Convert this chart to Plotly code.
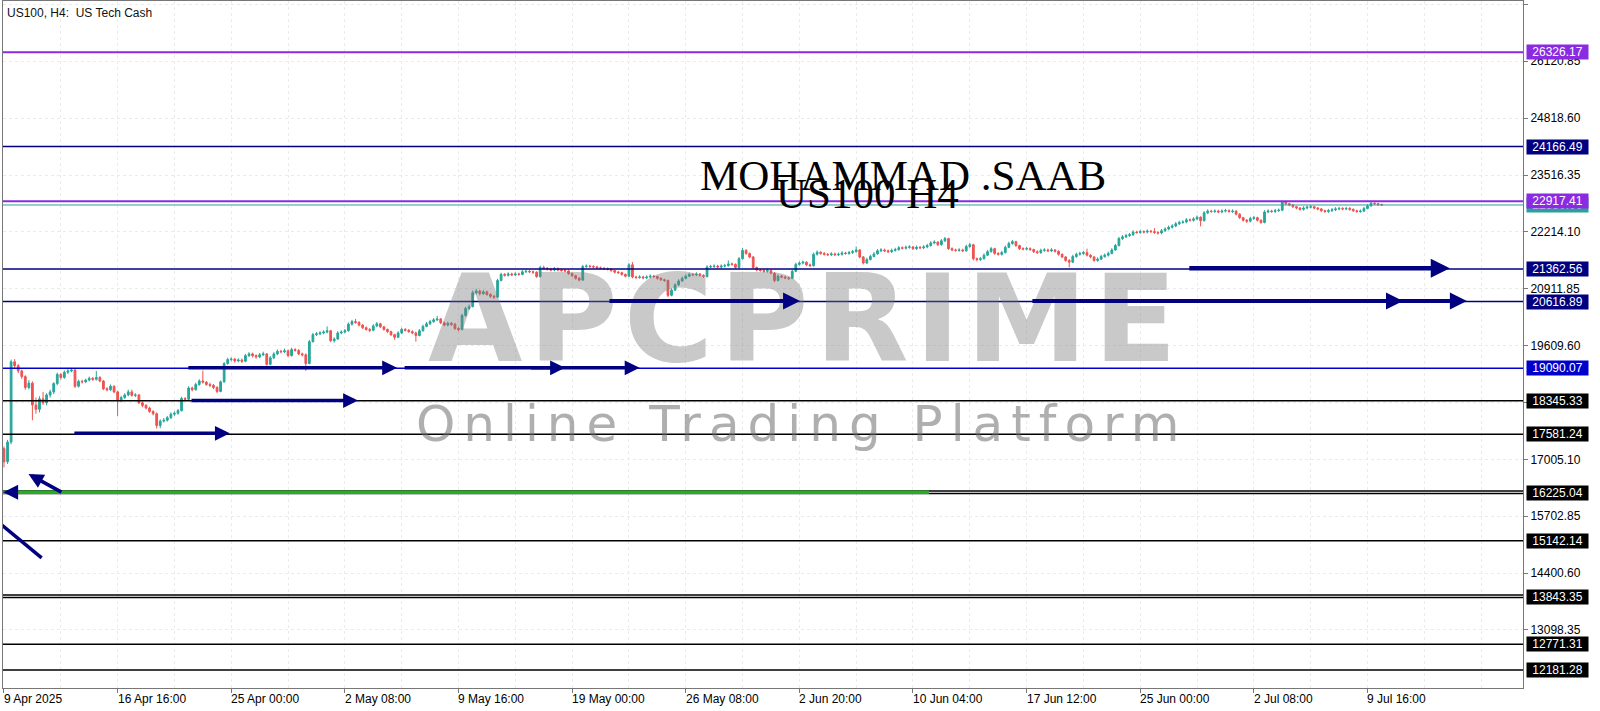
import plotly.graph_objects as go

# ---------------- data ----------------
opens = [
17250,16950,17400,19240,19150,19030,18900,18650,18750,18250,
18150,18390,18300,18480,18550,18740,18950,18880,19000,19030,
19050,18680,18790,18780,18820,18860,18840,18880,18800,18620,
18600,18680,18550,18350,18420,18480,18550,18470,18480,18300,
18240,18180,18100,18050,17780,17880,17900,17960,18040,18060,
18120,18400,18380,18640,18600,18720,18800,18770,18720,18700,
18650,18560,18780,19200,19290,19300,19260,19280,19250,19380,
19420,19380,19350,19400,19420,19180,19330,19420,19480,19470,
19490,19380,19520,19500,19420,19400,19200,19700,19860,19880,
19900,19920,19950,19720,19760,19900,19920,19950,20100,20160,
20140,20080,20020,19980,19960,20060,20110,20040,19980,19930,
19860,19800,19900,19980,19960,19930,19900,19840,19950,20050,
20110,20160,20200,20220,20130,20080,20120,20100,20000,19980,
20300,20460,20500,20820,20860,20800,20840,20780,20740,20720,
21100,21240,21220,21250,21230,21250,21240,21300,21310,21300,
21290,21190,21400,21380,21360,21340,21370,21340,21330,21320,
21260,21210,21150,21110,21420,21430,21420,21410,21390,21380,
21370,21360,21330,21290,21280,21240,21200,21460,21180,21170,
21180,21160,21180,21200,21190,21150,21120,21100,20760,20880,
21000,21090,21150,21200,21240,21230,21250,21220,21190,21410,
21420,21430,21410,21430,21440,21480,21470,21400,21600,21790,
21720,21640,21400,21340,21330,21310,21330,21270,21100,21200,
21180,21160,21150,21310,21470,21500,21520,21460,21440,21700,
21750,21720,21700,21690,21710,21690,21700,21730,21720,21740,
21760,21800,21640,21500,21580,21650,21710,21780,21800,21780,
21760,21790,21810,21850,21840,21860,21870,21830,21860,21850,
21870,21900,21960,21980,21920,22010,22060,21830,21800,21790,
21800,21780,21880,21920,21600,21580,21600,21680,21760,21830,
21720,21700,21740,21860,21950,21990,21900,21830,21820,21830,
21810,21760,21740,21790,21800,21780,21800,21770,21700,21640,
21560,21520,21650,21700,21720,21740,21680,21640,21560,21590,
21650,21680,21720,21800,21900,22060,22100,22130,22150,22210,
22200,22220,22210,22230,22220,22200,22190,22240,22280,22320,
22350,22400,22430,22440,22490,22480,22510,22550,22470,22650,
22690,22680,22690,22670,22690,22700,22680,22690,22620,22540,
22480,22460,22520,22540,22480,22430,22670,22690,22680,22700,
22710,22900,22860,22830,22790,22760,22730,22760,22780,22790,
22760,22740,22700,22680,22700,22720,22740,22750,22740,22750,
22730,22700,22680,22690,22750,22810,22870,22860,22840]

highs = [
17300,17450,19290,19300,19190,19060,18930,18820,18790,18420,
18450,18550,18520,18600,18770,18990,18980,19040,19070,19100,
19080,18830,18830,18850,18900,18890,19030,18910,18820,18660,
18720,18700,18580,18460,18520,18600,18600,18520,18500,18330,
18270,18210,18130,18080,17920,17950,18000,18080,18100,18160,
18440,18430,18680,18670,18760,18840,19040,18800,18760,18730,
18680,18810,19230,19330,19340,19330,19320,19310,19420,19460,
19450,19410,19440,19470,19440,19370,19460,19520,19510,19540,
19520,19560,19550,19530,19450,19430,19740,19900,19920,19940,
19960,20050,19970,19800,19940,19960,19990,20140,20200,20220,
20170,20100,20050,20010,20100,20150,20130,20060,20000,19950,
19880,19940,20020,20010,19990,19960,19930,19990,20090,20150,
20200,20240,20290,20240,20160,20160,20150,20130,20030,20340,
20500,20550,20870,20910,20890,20880,20870,20810,20770,21140,
21280,21270,21290,21280,21290,21280,21340,21350,21340,21330,
21310,21440,21440,21410,21390,21410,21400,21370,21360,21350,
21280,21230,21180,21460,21470,21460,21450,21440,21420,21410,
21400,21380,21350,21320,21300,21260,21500,21520,21210,21220,
21210,21220,21240,21230,21210,21170,21140,21120,20920,21040,
21130,21190,21240,21280,21270,21290,21270,21240,21450,21460,
21470,21460,21470,21480,21560,21510,21490,21640,21840,21820,
21740,21660,21420,21370,21360,21370,21350,21290,21240,21230,
21210,21190,21350,21510,21540,21560,21540,21490,21740,21790,
21770,21750,21730,21750,21740,21740,21770,21760,21780,21800,
21880,21820,21660,21620,21690,21750,21820,21840,21830,21810,
21830,21850,21890,21880,21900,21910,21890,21900,21890,21910,
21940,22000,22020,22000,22050,22100,22080,21860,21830,21840,
21830,21920,21960,21940,21630,21640,21720,21800,21870,21850,
21750,21780,21900,21990,22030,22010,21920,21860,21870,21860,
21830,21790,21830,21840,21830,21840,21820,21790,21720,21660,
21590,21690,21740,21760,21780,21830,21700,21660,21630,21690,
21720,21760,21840,21940,22100,22140,22170,22190,22250,22240,
22260,22250,22270,22260,22300,22230,22280,22320,22360,22390,
22440,22470,22480,22530,22520,22550,22590,22570,22690,22730,
22720,22730,22720,22730,22740,22730,22730,22710,22640,22560,
22510,22560,22580,22560,22500,22710,22730,22720,22740,22750,
22920,22910,22880,22850,22810,22780,22800,22820,22830,22810,
22780,22760,22720,22740,22760,22780,22790,22780,22790,22780,
22750,22720,22730,22790,22850,22920,22890,22880,22860]

lows = [
16820,16900,17350,19100,18980,18850,18600,18610,17900,18050,
18080,18250,18240,18420,18500,18700,18830,18850,18960,19000,
18640,18650,18740,18750,18790,18800,18810,18770,18590,18560,
18570,18520,18000,18310,18390,18450,18440,18430,18270,18200,
18150,18070,18010,17710,17720,17850,17870,17930,18000,18030,
18100,18340,18360,18560,18580,18690,18740,18690,18660,18610,
18520,18540,18760,19170,19250,19220,19230,19210,19230,19350,
19340,19310,19320,19370,19150,19160,19300,19390,19430,19440,
19350,19360,19470,19390,19360,19030,19180,19680,19830,19850,
19870,19890,19690,19680,19740,19870,19890,19930,20070,20110,
20050,19990,19950,19920,19940,20030,20010,19950,19900,19830,
19740,19780,19870,19930,19900,19870,19700,19820,19930,20030,
20080,20130,20170,20100,20050,20050,20060,19970,19940,19960,
20270,20430,20490,20780,20760,20770,20750,20700,20680,20700,
21080,21190,21190,21200,21200,21210,21220,21270,21270,21250,
21160,21170,21350,21330,21310,21310,21310,21300,21290,21230,
21180,21120,21080,21090,21390,21390,21380,21360,21350,21340,
21330,21300,21260,21250,21210,21170,21180,21150,21130,21140,
21130,21130,21150,21160,21120,21090,21070,20720,20740,20860,
20980,21070,21130,21180,21200,21200,21190,21160,21170,21380,
21390,21380,21380,21400,21420,21440,21370,21380,21580,21690,
21610,21370,21310,21300,21280,21280,21240,21060,21080,21150,
21130,21110,21130,21290,21440,21470,21430,21410,21420,21670,
21690,21670,21660,21660,21660,21660,21670,21690,21690,21710,
21740,21610,21470,21480,21560,21630,21690,21750,21750,21730,
21730,21760,21780,21810,21810,21830,21800,21800,21820,21820,
21840,21880,21930,21890,21900,21980,21800,21770,21760,21760,
21750,21760,21850,21560,21540,21550,21580,21660,21740,21690,
21670,21670,21720,21840,21920,21870,21800,21790,21790,21780,
21730,21710,21710,21760,21750,21750,21740,21670,21610,21530,
21400,21500,21620,21670,21690,21650,21610,21530,21530,21570,
21620,21650,21700,21780,21880,22030,22070,22100,22120,22170,
22170,22180,22180,22190,22170,22150,22160,22210,22250,22290,
22320,22370,22400,22410,22450,22450,22480,22340,22450,22620,
22650,22650,22640,22640,22660,22650,22650,22590,22510,22450,
22420,22430,22490,22450,22400,22410,22640,22650,22650,22670,
22690,22830,22800,22760,22730,22700,22700,22730,22750,22730,
22710,22670,22650,22650,22670,22690,22710,22710,22710,22700,
22670,22650,22650,22670,22730,22790,22830,22810,22810]

closes = [
16950,17400,19240,19150,19030,18900,18650,18750,18250,18150,
18390,18300,18480,18550,18740,18950,18880,19000,19030,19050,
18680,18790,18780,18820,18860,18840,18880,18800,18620,18600,
18680,18550,18350,18420,18480,18550,18470,18480,18300,18240,
18180,18100,18050,17780,17880,17900,17960,18040,18060,18120,
18400,18380,18640,18600,18720,18800,18770,18720,18700,18650,
18560,18780,19200,19290,19300,19260,19280,19250,19380,19420,
19380,19350,19400,19420,19180,19330,19420,19480,19470,19490,
19380,19520,19500,19420,19400,19200,19700,19860,19880,19900,
19920,19950,19720,19760,19900,19920,19950,20100,20160,20140,
20080,20020,19980,19960,20060,20110,20040,19980,19930,19860,
19800,19900,19980,19960,19930,19900,19840,19950,20050,20110,
20160,20200,20220,20130,20080,20120,20100,20000,19980,20300,
20460,20500,20820,20860,20800,20840,20780,20740,20720,21100,
21240,21220,21250,21230,21250,21240,21300,21310,21300,21290,
21190,21400,21380,21360,21340,21370,21340,21330,21320,21260,
21210,21150,21110,21420,21430,21420,21410,21390,21380,21370,
21360,21330,21290,21280,21240,21200,21460,21180,21170,21180,
21160,21180,21200,21190,21150,21120,21100,20760,20880,21000,
21090,21150,21200,21240,21230,21250,21220,21190,21410,21420,
21430,21410,21430,21440,21480,21470,21400,21600,21790,21720,
21640,21400,21340,21330,21310,21330,21270,21100,21200,21180,
21160,21150,21310,21470,21500,21520,21460,21440,21700,21750,
21720,21700,21690,21710,21690,21700,21730,21720,21740,21760,
21800,21640,21500,21580,21650,21710,21780,21800,21780,21760,
21790,21810,21850,21840,21860,21870,21830,21860,21850,21870,
21900,21960,21980,21920,22010,22060,21830,21800,21790,21800,
21780,21880,21920,21600,21580,21600,21680,21760,21830,21720,
21700,21740,21860,21950,21990,21900,21830,21820,21830,21810,
21760,21740,21790,21800,21780,21800,21770,21700,21640,21560,
21520,21650,21700,21720,21740,21680,21640,21560,21590,21650,
21680,21720,21800,21900,22060,22100,22130,22150,22210,22200,
22220,22210,22230,22220,22200,22190,22240,22280,22320,22350,
22400,22430,22440,22490,22480,22510,22550,22470,22650,22690,
22680,22690,22670,22690,22700,22680,22690,22620,22540,22480,
22460,22520,22540,22480,22430,22670,22690,22680,22700,22710,
22900,22860,22830,22790,22760,22730,22760,22780,22790,22760,
22740,22700,22680,22700,22720,22740,22750,22740,22750,22730,
22700,22680,22690,22750,22810,22870,22860,22840,22830]

bar_index = list(range(len(closes)))

# x axis labels (every 32 H4 bars) and grid (every 16 bars)
tick_idx = [0, 32, 64, 96, 128, 160, 192, 224, 256, 288, 320, 352, 384]
tick_text = ["9 Apr 2025", "16 Apr 16:00", "25 Apr 00:00", "2 May 08:00", "9 May 16:00",
             "19 May 00:00", "26 May 08:00", "2 Jun 20:00", "10 Jun 04:00", "17 Jun 12:00",
             "25 Jun 00:00", "2 Jul 08:00", "9 Jul 16:00"]
grid_idx = [16, 48, 80, 112, 144, 176, 208, 240, 272, 304, 336, 368, 400, 416]

# price scale
y_ticks = [27423.10, 26120.85, 24818.60, 23516.35, 22214.10, 20911.85, 19609.60,
           18307.35, 17005.10, 15702.85, 14400.60, 13098.35]
y_range = [11769, 27501]
x_range = [-0.28, 427.8]

# horizontal levels with price tags
level_prices = [26326.17, 24166.49, 22917.41, 21362.56, 20616.89, 19090.07, 18345.33,
                17581.24, 16225.04, 15142.14, 13843.35, 12771.31, 12181.28]
level_colors = ["#8a2be2", "#000080", "#8a2be2", "#000080", "#000080", "#0000cd", "#000000",
                "#000000", "#000000", "#000000", "#000000", "#000000", "#000000"]
level_widths = [2, 1.5, 2, 1.5, 1.5, 1.5, 1.5, 1.5, 1.5, 1.5, 1.5, 1.5, 1.5]
twin_prices = [16280.0, 13898.0]          # second line of the doubled levels
current_price = 22830.0

# green zone line
green_price = 16252.0
green_start, green_end = -0.3, 260.5

# arrows: tail -> tip (bar index, price)
arrow_tail_idx = [333.4, 170.1, 289.2, 340.7, 51.5, 112.4, 148.0, 52.4, 19.4, 16.6, 2.5]
arrow_tip_idx = [407.2, 224.2, 394.0, 412.0, 110.7, 158.0, 179.0, 99.7, 63.6, 6.9, -0.2]
arrow_tail_price = [21380, 20630, 20630, 20630, 19100, 19100, 19100, 18350, 17600, 16235, 16252]
arrow_tip_price = [21380, 20630, 20630, 20630, 19100, 19100, 19100, 18350, 17600, 16670, 16252]
arrow_widths = [4.5, 4, 4, 4, 3.5, 3.5, 3.5, 3.5, 3.5, 3.5, 3.5]

# plain trend line (no head)
trend_idx = [-0.65, 10.6]
trend_price = [15502, 14747]

UP = "#26a69a"
DOWN = "#ef5350"
FONT = "Liberation Sans"
GRID = "#ebebeb"

fig = go.Figure()
fig.add_trace(go.Candlestick(
    x=bar_index, open=opens, high=highs, low=lows, close=closes,
    increasing=dict(line=dict(color=UP, width=1), fillcolor=UP),
    decreasing=dict(line=dict(color=DOWN, width=1), fillcolor=DOWN),
    whiskerwidth=0, showlegend=False, hoverinfo="skip"))

shapes = []
for p, c, w in zip(level_prices, level_colors, level_widths):
    shapes.append(dict(type="line", xref="paper", x0=0, x1=1, yref="y", y0=p, y1=p,
                       line=dict(color=c, width=w), layer="above"))
for p in twin_prices:
    shapes.append(dict(type="line", xref="paper", x0=0, x1=1, yref="y", y0=p, y1=p,
                       line=dict(color="#000000", width=1.5), layer="above"))
shapes.append(dict(type="line", xref="paper", x0=0, x1=1, yref="y", y0=current_price,
                   y1=current_price, line=dict(color="#2aa198", width=1), layer="above"))
shapes.append(dict(type="line", xref="x", x0=green_start, x1=green_end, yref="y",
                   y0=green_price, y1=green_price, line=dict(color="#22b022", width=3.5),
                   layer="above"))
shapes.append(dict(type="line", xref="x", x0=trend_idx[0], x1=trend_idx[1], yref="y",
                   y0=trend_price[0], y1=trend_price[1], line=dict(color="#000080", width=3.5),
                   layer="above"))

ann = []
# watermark
ann.append(dict(text='<span style="letter-spacing:6px">APCPRIME</span>', xref="paper",
                yref="paper", x=0.528, y=0.537, showarrow=False,
                font=dict(family="DejaVu Sans", size=122, weight="bold",
                          color="rgba(120,120,120,0.40)")))
ann.append(dict(text='<span style="letter-spacing:8px">Online Trading Platform</span>',
                xref="paper", yref="paper", x=0.5253, y=0.384, showarrow=False,
                font=dict(family="DejaVu Sans", size=50, color="rgba(110,110,110,0.55)")))
# arrows
for tx, hx, ty, hy, w in zip(arrow_tail_idx, arrow_tip_idx, arrow_tail_price, arrow_tip_price,
                             arrow_widths):
    ann.append(dict(x=hx, y=hy, xref="x", yref="y", ax=tx, ay=ty, axref="x", ayref="y",
                    text="", showarrow=True, arrowhead=2, arrowsize=0.85, arrowwidth=w,
                    arrowcolor="#000080", standoff=0))
# header
ann.append(dict(text="US100, H4:  US Tech Cash", xref="paper", yref="paper", x=0.0013,
                y=0.983, xanchor="left", yanchor="middle", showarrow=False,
                font=dict(family=FONT, size=12, color="#111")))
# chart texts
ann.append(dict(text="MOHAMMAD .SAAB", xref="paper", yref="paper", x=0.592, y=0.7836,
                showarrow=False, font=dict(family="Liberation Serif", size=43, color="#000")))
ann.append(dict(text="US100 H4", xref="paper", yref="paper", x=0.569, y=0.7562,
                showarrow=False, font=dict(family="Liberation Serif", size=43, color="#000")))
# x labels, left aligned at their ticks
for i, t in zip(tick_idx, tick_text):
    ann.append(dict(text=t, x=i, xref="x", y=0, yref="paper", xanchor="left", yanchor="top",
                    yshift=-2, xshift=-2, showarrow=False,
                    font=dict(family=FONT, size=12, color="#000")))
# price tags (current price first so the level tag covers it)
tag_list = [(current_price, "#2aa198")] + list(zip(level_prices, level_colors))
for p, c in tag_list:
    ann.append(dict(text=f"{p:.2f}", x=1, xref="paper", y=p, yref="y", xanchor="left",
                    yanchor="middle", xshift=3, showarrow=False, bgcolor=c, width=61, height=14,
                    borderpad=0, font=dict(family=FONT, size=12, color="#ffffff")))

fig.update_layout(
    width=1600, height=711, margin=dict(l=3, r=77, t=1, b=23),
    paper_bgcolor="#ffffff", plot_bgcolor="#ffffff",
    shapes=shapes, annotations=ann, showlegend=False,
    xaxis=dict(range=x_range, tickvals=tick_idx, showticklabels=False, ticks="outside",
               ticklen=4, tickcolor="#777", showgrid=True, gridcolor=GRID, griddash="dot",
               gridwidth=1, zeroline=False, showline=True, linecolor="#777", mirror=True,
               rangeslider=dict(visible=False),
               minor=dict(tickvals=grid_idx, showgrid=True, gridcolor=GRID,
                          griddash="dot", ticks="")),
    yaxis=dict(range=y_range, side="right", tickvals=y_ticks, tickformat=".2f", ticks="outside",
               ticklen=4, tickcolor="#777", showgrid=True, gridcolor=GRID, griddash="dot",
               zeroline=False, showline=True, linecolor="#777", mirror=True,
               tickfont=dict(family=FONT, size=12, color="#000")),
)

fig.write_html("out.html", config={"displayModeBar": False},
               post_script="document.body.style.margin='0';")
